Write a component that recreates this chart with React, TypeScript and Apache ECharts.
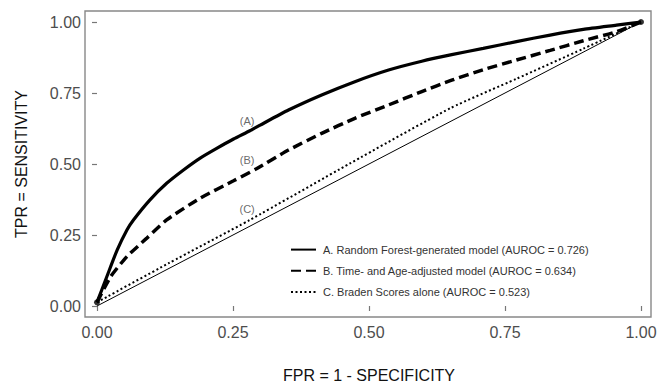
import React, { useEffect, useRef } from "react";
import * as echarts from "echarts";

const fprA = [0, 0.018, 0.037, 0.055, 0.067, 0.097, 0.128, 0.159, 0.189, 0.22, 0.251, 0.281, 0.3, 0.352, 0.413, 0.474, 0.536, 0.597, 0.652, 0.71, 0.771, 0.833, 0.894, 0.955, 1];
const tprA = [0.013, 0.103, 0.197, 0.268, 0.303, 0.373, 0.432, 0.479, 0.52, 0.555, 0.588, 0.617, 0.637, 0.69, 0.743, 0.79, 0.831, 0.862, 0.885, 0.907, 0.931, 0.954, 0.974, 0.989, 1];

const fprB = [0, 0.025, 0.055, 0.091, 0.128, 0.189, 0.251, 0.294, 0.352, 0.413, 0.474, 0.536, 0.597, 0.652, 0.71, 0.771, 0.833, 0.894, 0.955, 1];
const tprB = [0.013, 0.103, 0.174, 0.238, 0.303, 0.379, 0.441, 0.484, 0.549, 0.608, 0.661, 0.708, 0.755, 0.795, 0.832, 0.866, 0.9, 0.934, 0.966, 1];

const fprC = [0, 0.131, 0.281, 0.465, 0.649, 0.771, 0.894, 1];
const tprC = [0.013, 0.15, 0.303, 0.502, 0.696, 0.8, 0.906, 1];

const diagX = [0, 1];
const diagY = [0, 1];

const endX = [0, 1];
const endY = [0.013, 1];

const seriesNames = [
  "A. Random Forest-generated model (AUROC = 0.726)",
  "B. Time- and Age-adjusted model (AUROC = 0.634)",
  "C. Braden Scores alone (AUROC = 0.523)",
];

const curveTags = ["(A)", "(B)", "(C)"];
const tagX = [0.276, 0.276, 0.276];
const tagY = [0.652, 0.514, 0.34];

const ticks = [0, 0.25, 0.5, 0.75, 1];

const zip = (xs: number[], ys: number[]) => xs.map((x, i) => [x, ys[i]]);

const FONT = "'Liberation Sans', Arial, Helvetica, sans-serif";

export default function App() {
  const ref = useRef<HTMLDivElement>(null);
  useEffect(() => {
    if (!ref.current) return;
    const chart = echarts.init(ref.current, null, { renderer: "svg" });
    const axisCommon = {
      type: "value" as const,
      min: ticks[0],
      max: ticks[ticks.length - 1],
      interval: 0.25,
      splitLine: { show: false },
      axisLine: { show: false },
      axisTick: { show: true, length: 5, lineStyle: { color: "#777", width: 1.2 } },
      nameLocation: "middle" as const,
      nameTextStyle: { fontFamily: FONT, fontSize: 16, color: "#111" },
    };
    const lineCommon = {
      type: "line" as const,
      symbol: "none",
      smooth: 0.2,
      clip: false,
      itemStyle: { color: "#000" },
    };
    chart.setOption({
      animation: false,
      backgroundColor: "#fff",
      textStyle: { fontFamily: FONT },
      grid: { left: 97, right: 18, top: 22, bottom: 78, containLabel: false, outerBoundsMode: "none" },
      xAxis: {
        ...axisCommon,
        offset: 11,
        name: "FPR = 1 - SPECIFICITY",
        nameGap: 50,
        axisLabel: {
          margin: 7,
          fontSize: 16,
          color: "#4d4d4d",
          fontFamily: FONT,
          formatter: (v: number) => v.toFixed(2),
        },
      },
      yAxis: {
        ...axisCommon,
        offset: 12,
        name: "TPR = SENSITIVITY",
        nameGap: 56,
        axisLabel: {
          margin: 4,
          fontSize: 16,
          color: "#4d4d4d",
          fontFamily: FONT,
          formatter: (v: number) => v.toFixed(2),
        },
      },
      legend: {
        orient: "vertical",
        left: 285,
        top: 239,
        itemWidth: 25,
        itemHeight: 14,
        itemGap: 10,
        data: seriesNames,
        itemStyle: { opacity: 0 },
        textStyle: { fontSize: 11, color: "#333", fontFamily: FONT, padding: [0, 0, 0, 2] },
      },
      graphic: [
        {
          type: "rect",
          shape: { x: 85, y: 11, width: 566, height: 306 },
          style: { fill: "none", stroke: "#888", lineWidth: 1.4 },
          silent: true,
          z: -1,
        },
      ],
      series: [
        {
          name: "diag",
          type: "line",
          data: zip(diagX, diagY),
          symbol: "none",
          clip: false,
          lineStyle: { color: "#000", width: 1 },
        },
        {
          ...lineCommon,
          name: seriesNames[0],
          data: zip(fprA, tprA),
          lineStyle: { color: "#000", width: 3.2 },
        },
        {
          ...lineCommon,
          name: seriesNames[1],
          data: zip(fprB, tprB),
          lineStyle: { color: "#000", width: 3.5, type: [10, 5] },
        },
        {
          ...lineCommon,
          name: seriesNames[2],
          data: zip(fprC, tprC),
          lineStyle: { color: "#000", width: 2, type: [2, 2.5] },
        },
        {
          name: "ends",
          type: "scatter",
          data: zip(endX, endY),
          symbolSize: 6,
          itemStyle: { color: "#000" },
          clip: false,
        },
        {
          name: "tags",
          type: "scatter",
          data: curveTags.map((t, i) => ({ value: [tagX[i], tagY[i]], name: t })),
          symbolSize: 1,
          itemStyle: { color: "rgba(0,0,0,0)" },
          label: {
            show: true,
            position: "inside",
            formatter: (p: any) => p.name,
            fontSize: 11,
            color: "#444",
            fontFamily: FONT,
          },
          silent: true,
        },
      ],
    });
    return () => chart.dispose();
  }, []);
  return (
    <div
      ref={ref}
      style={{ position: "fixed", left: 0, top: 0, width: 659, height: 384, background: "#fff" }}
    />
  );
}
